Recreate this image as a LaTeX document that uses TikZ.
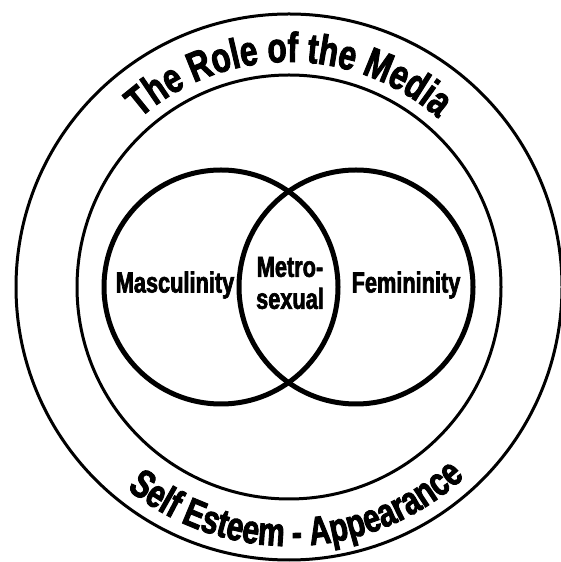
\documentclass[tikz,border=0pt]{standalone}
\usepackage{fontspec}
\usepackage{tikz}
\usetikzlibrary{decorations.text}
\newfontfamily\mediafont{Liberation Sans}[FakeStretch=0.75,FakeBold=2.2]

\tikzset{
  ring/.style={draw=black, line width=1.5pt},
  venn/.style={draw=black, line width=2.5pt},
  lbl/.style={font=\mediafont\bfseries\fontsize{14.5}{16}\selectfont, align=center, inner sep=0pt},
}

\begin{document}
\begin{tikzpicture}[x=0.5pt, y=0.5pt]
  \useasboundingbox (0,0) rectangle (561,562);
  \coordinate (mid) at (289,275);
  \coordinate (mascC) at (221,275);
  \coordinate (femC) at (356,275);

  \draw[ring] (mid) circle (273);
  \draw[ring] (mid) circle (212);
  \draw[venn] (mascC) circle (117);
  \draw[venn] (femC) circle (117);

  \path[decorate, decoration={text along path, text align=center,
    text={|\mediafont\bfseries\fontsize{21}{21}\selectfont|The Role of the Media}}]
    (mid) ++(150:225) arc[start angle=150, end angle=30, radius=225];
  \path[decorate, decoration={text along path, text align=center,
    text={|\mediafont\bfseries\fontsize{20}{20}\selectfont|Self Esteem - Appearance}}]
    (mid) ++(217:259) arc[start angle=217, end angle=327, radius=259];

  \node[lbl] (masc) at (175,277) {Masculinity};
  \node[lbl] (metro) at (290,279) {Metro-\\sexual};
  \node[lbl] (fem) at (406,277) {Femininity};
\end{tikzpicture}
\end{document}
